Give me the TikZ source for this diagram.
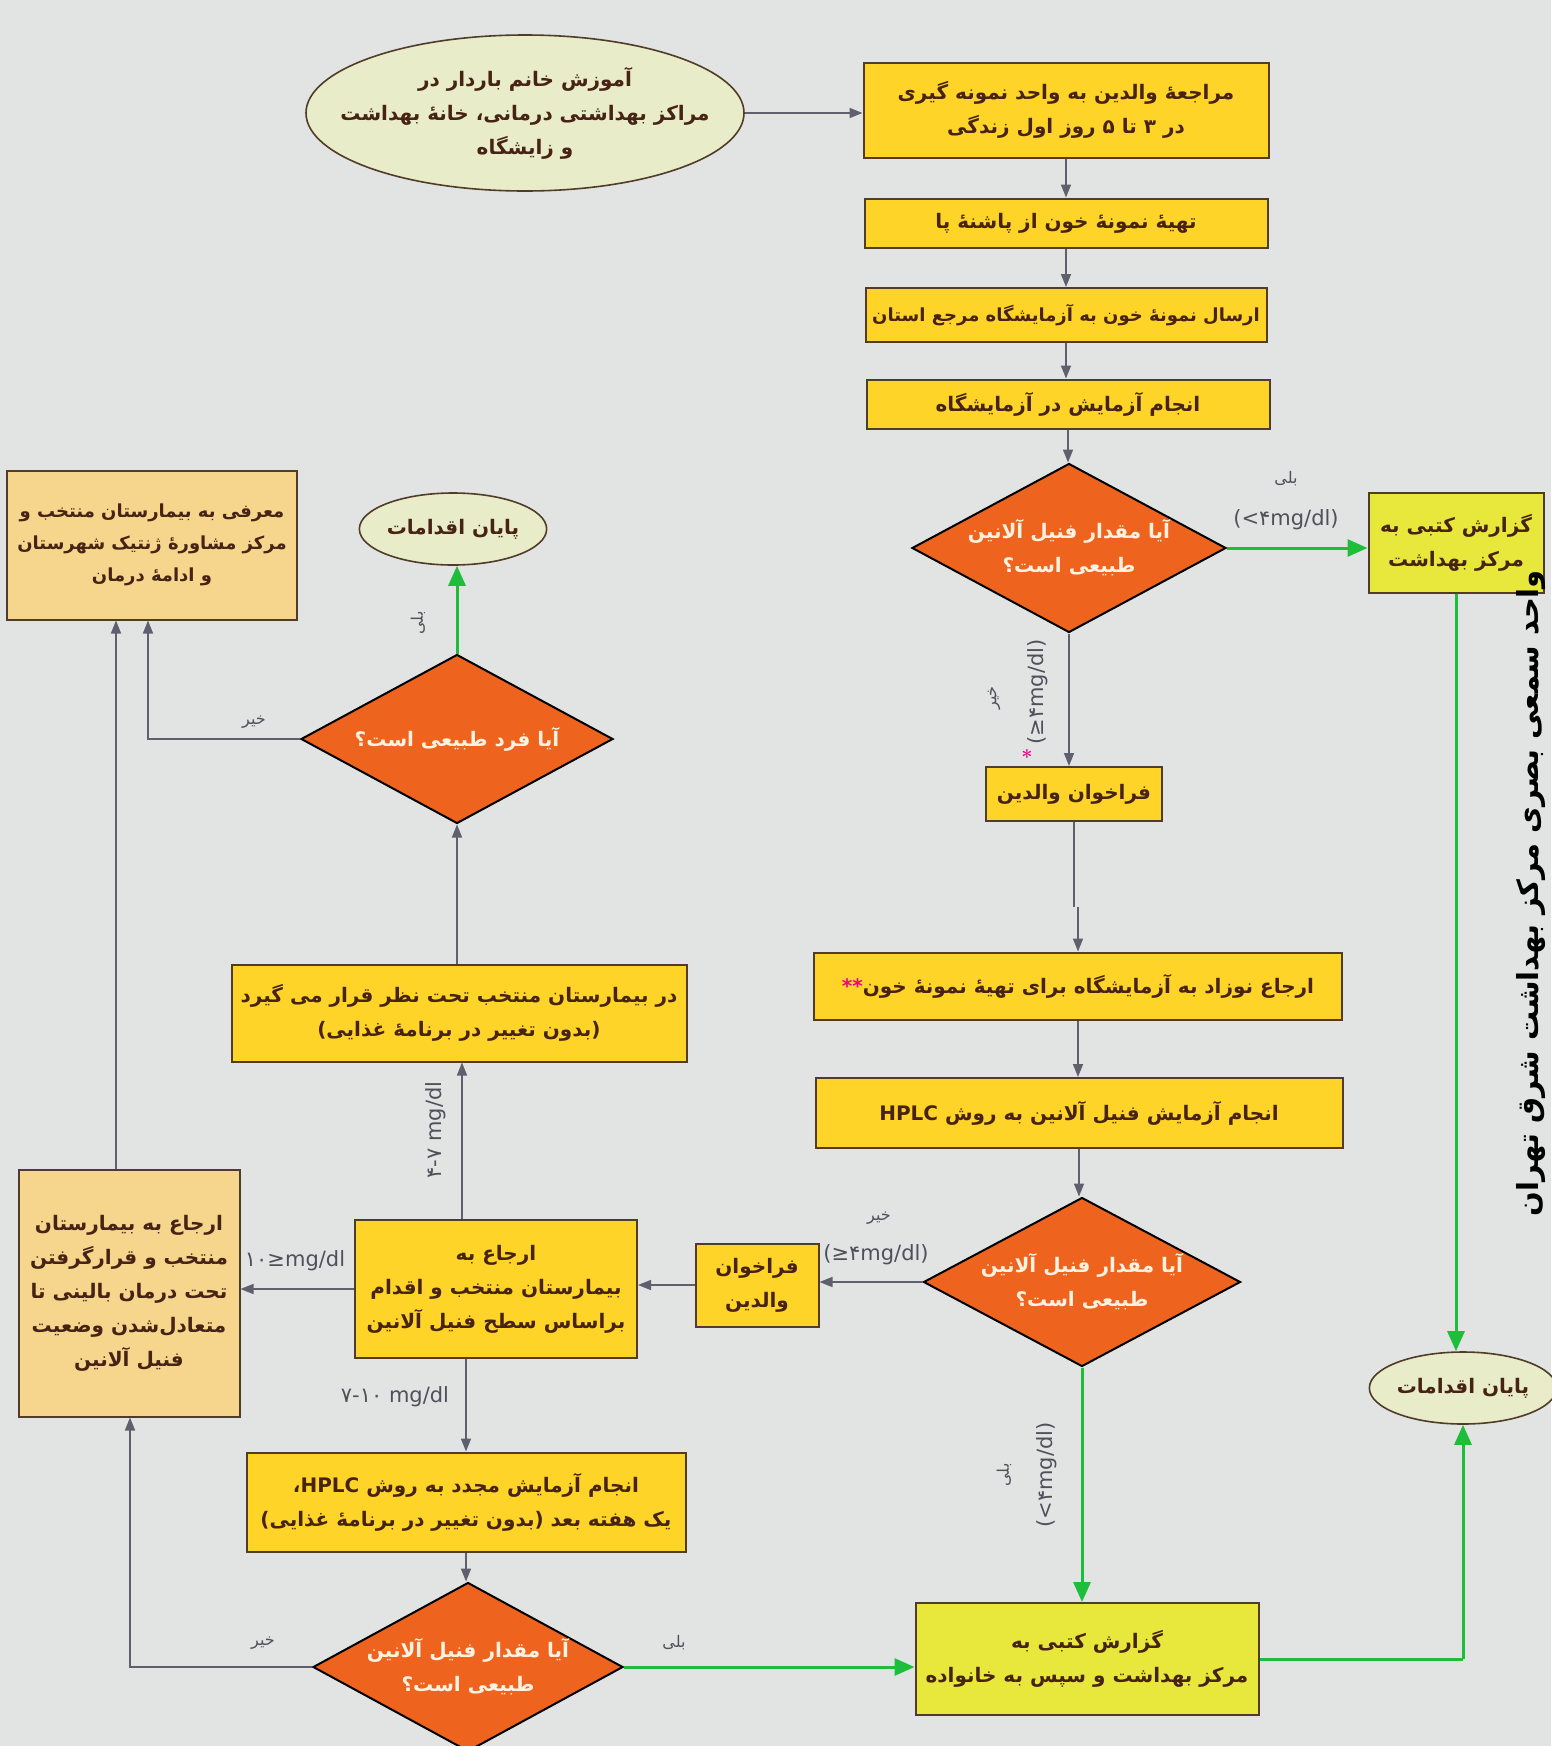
\documentclass[tikz,border=0pt]{standalone}
\usepackage{fontspec}
\usetikzlibrary{shapes.geometric,arrows.meta,calc}
\TeXXeTstate=1
\newfontfamily\pf[Script=Arabic]{DejaVu Sans}
\newcommand\fa[1]{\beginR #1\endR}
\definecolor{bgc}{RGB}{226,227,227}
\definecolor{yel}{RGB}{255,212,40}
\definecolor{ygr}{RGB}{232,232,60}
\definecolor{orn}{RGB}{238,100,30}
\definecolor{ellc}{RGB}{232,236,200}
\definecolor{tanc}{RGB}{245,214,140}
\definecolor{txtc}{RGB}{70,35,20}
\definecolor{bord}{RGB}{80,60,40}
\definecolor{arrc}{RGB}{95,95,110}
\definecolor{grn}{RGB}{30,190,60}
\definecolor{labc}{RGB}{80,80,90}
\definecolor{dtxt}{RGB}{255,242,225}
\begin{document}
\begin{tikzpicture}[x=1pt,y=-1pt,
  boxbase/.style={rectangle,draw=bord,line width=2pt,align=center,inner sep=0pt,text=txtc,font=\pf\bfseries\fontsize{20}{34}\selectfont},
  ybox/.style={boxbase,fill=yel},
  gbox/.style={boxbase,fill=ygr},
  tbox/.style={boxbase,fill=tanc},
  dia/.style={diamond,draw=black,line width=2pt,fill=orn,inner sep=0pt,align=center,text=dtxt,font=\pf\bfseries\fontsize{20}{34}\selectfont},
  ell/.style={ellipse,draw=bord,line width=1.6pt,fill=ellc,inner sep=0pt,align=center,text=txtc,font=\pf\bfseries\fontsize{20}{34}\selectfont},
  garr/.style={draw=arrc,line width=1.6pt,-{Triangle[length=13pt,width=10pt]}},
  gline/.style={draw=arrc,line width=1.6pt},
  grarr/.style={draw=grn,line width=3pt,-{Triangle[length=20pt,width=17pt]}},
  grline/.style={draw=grn,line width=3pt},
  lab/.style={text=labc,font=\pf\fontsize{16}{18}\selectfont,inner sep=1pt},
  mlab/.style={text=labc,font=\pf\fontsize{21}{23}\selectfont,inner sep=1pt}
]
\useasboundingbox (0,0) rectangle (1551,1746);
\fill[bgc] (0,0) rectangle (1551,1746);

% nodes
\node[ell,inner xsep=-32pt,inner ysep=-18pt,minimum width=438,minimum height=156] (e1) at (525,113)
  {\fa{آموزش خانم باردار در}\\\fa{مراکز بهداشتی درمانی، خانهٔ بهداشت}\\\fa{و زایشگاه}};
\node[ybox,minimum width=405,minimum height=95] (b1) at (1066,110)
  {\fa{مراجعهٔ والدین به واحد نمونه گیری}\\\fa{در ۳ تا ۵ روز اول زندگی}};
\node[ybox,minimum width=403,minimum height=49] (b2) at (1066,223) {\fa{تهیهٔ نمونهٔ خون از پاشنهٔ پا}};
\node[ybox,minimum width=401,minimum height=54,font=\pf\bfseries\fontsize{18}{30}\selectfont] (b3) at (1066,315) {\fa{ارسال نمونهٔ خون به آزمایشگاه مرجع استان}};
\node[ybox,minimum width=403,minimum height=49] (b4) at (1068,404) {\fa{انجام آزمایش در آزمایشگاه}};
\node[dia,shape aspect=1.86,minimum width=314,minimum height=169] (d1) at (1069,548) {\fa{آیا مقدار فنیل آلانین}\\\fa{طبیعی است؟}};
\node[gbox,minimum width=175,minimum height=100] (g1) at (1456,543) {\fa{گزارش کتبی به}\\\fa{مرکز بهداشت}};
\node[ybox,minimum width=176,minimum height=54] (b5) at (1074,794) {\fa{فراخوان والدین}};
\node[ybox,minimum width=528,minimum height=67] (b6) at (1078,986) {\textcolor{magenta}{**}\fa{ارجاع نوزاد به آزمایشگاه برای تهیهٔ نمونهٔ خون}};
\node[ybox,minimum width=527,minimum height=70] (b7) at (1079,1113) {\fa{انجام آزمایش فنیل آلانین به روش \beginL HPLC\endL}};
\node[dia,shape aspect=1.88,minimum width=317,minimum height=169] (d2) at (1082,1282) {\fa{آیا مقدار فنیل آلانین}\\\fa{طبیعی است؟}};
\node[ybox,minimum width=123,minimum height=83] (b8) at (757,1285) {\fa{فراخوان}\\\fa{والدین}};
\node[ybox,minimum width=282,minimum height=138] (b9) at (496,1289)
  {\fa{ارجاع به}\\\fa{بیمارستان منتخب و اقدام}\\\fa{براساس سطح فنیل آلانین}};
\node[tbox,minimum width=221,minimum height=247] (t2) at (129,1293)
  {\fa{ارجاع به بیمارستان}\\\fa{منتخب و قرارگرفتن}\\\fa{تحت درمان بالینی تا}\\\fa{متعادل‌شدن وضعیت}\\\fa{فنیل آلانین}};
\node[ybox,minimum width=455,minimum height=97] (b10) at (459,1013)
  {\fa{در بیمارستان منتخب تحت نظر قرار می گیرد}\\\fa{(بدون تغییر در برنامهٔ غذایی)}};
\node[dia,shape aspect=1.85,minimum width=312,minimum height=169] (d3) at (457,739) {\fa{آیا فرد طبیعی است؟}};
\node[ell,minimum width=176,minimum height=72] (e2) at (453,529) {\fa{پایان اقدامات}};
\node[tbox,minimum width=290,minimum height=149,font=\pf\bfseries\fontsize{18}{32}\selectfont] (t1) at (152,545)
  {\fa{معرفی به بیمارستان منتخب و}\\\fa{مرکز مشاورهٔ ژنتیک شهرستان}\\\fa{و ادامهٔ درمان}};
\node[ybox,minimum width=439,minimum height=99] (b11) at (466,1502)
  {\fa{انجام آزمایش مجدد به روش \beginL HPLC\endL،}\\\fa{یک هفته بعد (بدون تغییر در برنامهٔ غذایی)}};
\node[dia,shape aspect=1.83,minimum width=310,minimum height=169] (d4) at (468,1667) {\fa{آیا مقدار فنیل آلانین}\\\fa{طبیعی است؟}};
\node[gbox,minimum width=343,minimum height=112] (g2) at (1087,1659) {\fa{گزارش کتبی به}\\\fa{مرکز بهداشت و سپس به خانواده}};
\node[ell,minimum width=172,minimum height=72] (e3) at (1463,1388) {\fa{پایان اقدامات}};

% helper coordinates
\coordinate (t1a) at ($(t1.south)+(-36,0)$);
\coordinate (t1b) at ($(t1.south)+(-4,0)$);
\coordinate (t2a) at ($(t2.south)+(1,0)$);

% connectors
\draw[garr] (e1.east) -- (e1.east -| b1.west);
\draw[garr] (b1.south) -- (b2.north);
\draw[garr] (b2.south) -- (b3.north);
\draw[garr] (b3.south) -- (b3.south |- b4.north);
\draw[garr] (b4.south) -- (b4.south |- d1.north);
\draw[grarr] (d1.east) -- (d1.east -| g1.west);
\draw[garr] (d1.south) -- (d1.south |- b5.north);
\draw[gline] (b5.south) -- ($(b5.south |- b6.north)+(0,-45)$);
\draw[garr] ($(b5.south |- b6.north)+(4,-45)$) -- ($(b5.south |- b6.north)+(4,0)$);
\draw[garr] (b6.south) -- (b6.south |- b7.north);
\draw[garr] (b7.south) -- (b7.south |- d2.north);
\draw[garr] (d2.west) -- (d2.west -| b8.east);
\draw[garr] (b8.west) -- (b8.west -| b9.east);
\draw[garr] (b9.west) -- (b9.west -| t2.east);
\draw[garr] ($(b9.north)+(-34,0)$) -- ($(b9.north |- b10.south)+(-34,0)$);
\draw[garr] (d3.south |- b10.north) -- (d3.south);
\draw[grarr] (d3.north) -- (d3.north |- e2.south);
\draw[garr] (d3.west) -| (t1b);
\draw[garr] (t2.north -| t1a) -- (t1a);
\draw[garr] ($(b9.south)+(-30,0)$) -- ($(b9.south |- b11.north)+(-30,0)$);
\draw[garr] (b11.south) -- (b11.south |- d4.north);
\draw[garr] (d4.west) -| (t2a);
\draw[grarr] (d4.east) -- (d4.east -| g2.west);
\draw[grarr] (d2.south) -- (d2.south |- g2.north);
\draw[grline] (g2.east) -- (g2.east -| e3.south);
\draw[grarr] (g2.east -| e3.south) -- (e3.south);
\draw[grarr] (g1.south) -- (g1.south |- e3.north);

% labels
\node[lab] (l1) at (1286,479) {\fa{بلی}};
\node[mlab] (l2) at (1286,520) {(<۴mg/dl)};
\node[lab,rotate=90] (l3) at (994,698) {\fa{خیر}};
\node[mlab,rotate=90] (l4) at (1038,692) {(≥۴mg/dl)};
\node[text=magenta,font=\bfseries\fontsize{20}{20}\selectfont] (st) at (1027,757) {*};
\node[lab] (l5) at (879,1218) {\fa{خیر}};
\node[mlab] (l6) at (876,1255) {(≥۴mg/dl)};
\node[mlab] (l7) at (295,1261) {۱۰≥mg/dl};
\node[mlab,rotate=90] (l8) at (436,1130) {۴-۷ mg/dl};
\node[mlab] (l9) at (395,1397) {۷-۱۰ mg/dl};
\node[lab,rotate=90] (l10) at (418,623) {\fa{بلی}};
\node[lab] (l11) at (254,722) {\fa{خیر}};
\node[lab] (l12) at (263,1643) {\fa{خیر}};
\node[lab] (l13) at (674,1643) {\fa{بلی}};
\node[lab,rotate=90] (l14) at (1004,1475) {\fa{بلی}};
\node[mlab,rotate=90] (l15) at (1047,1475) {(<۴mg/dl)};

% side caption
\node[rotate=90,text=black,font=\pf\bfseries\fontsize{29}{30}\selectfont,inner sep=0pt] (cap) at (1531,893)
  {\fa{واحد سمعی بصری مرکز بهداشت شرق تهران}};
\end{tikzpicture}
\end{document}
